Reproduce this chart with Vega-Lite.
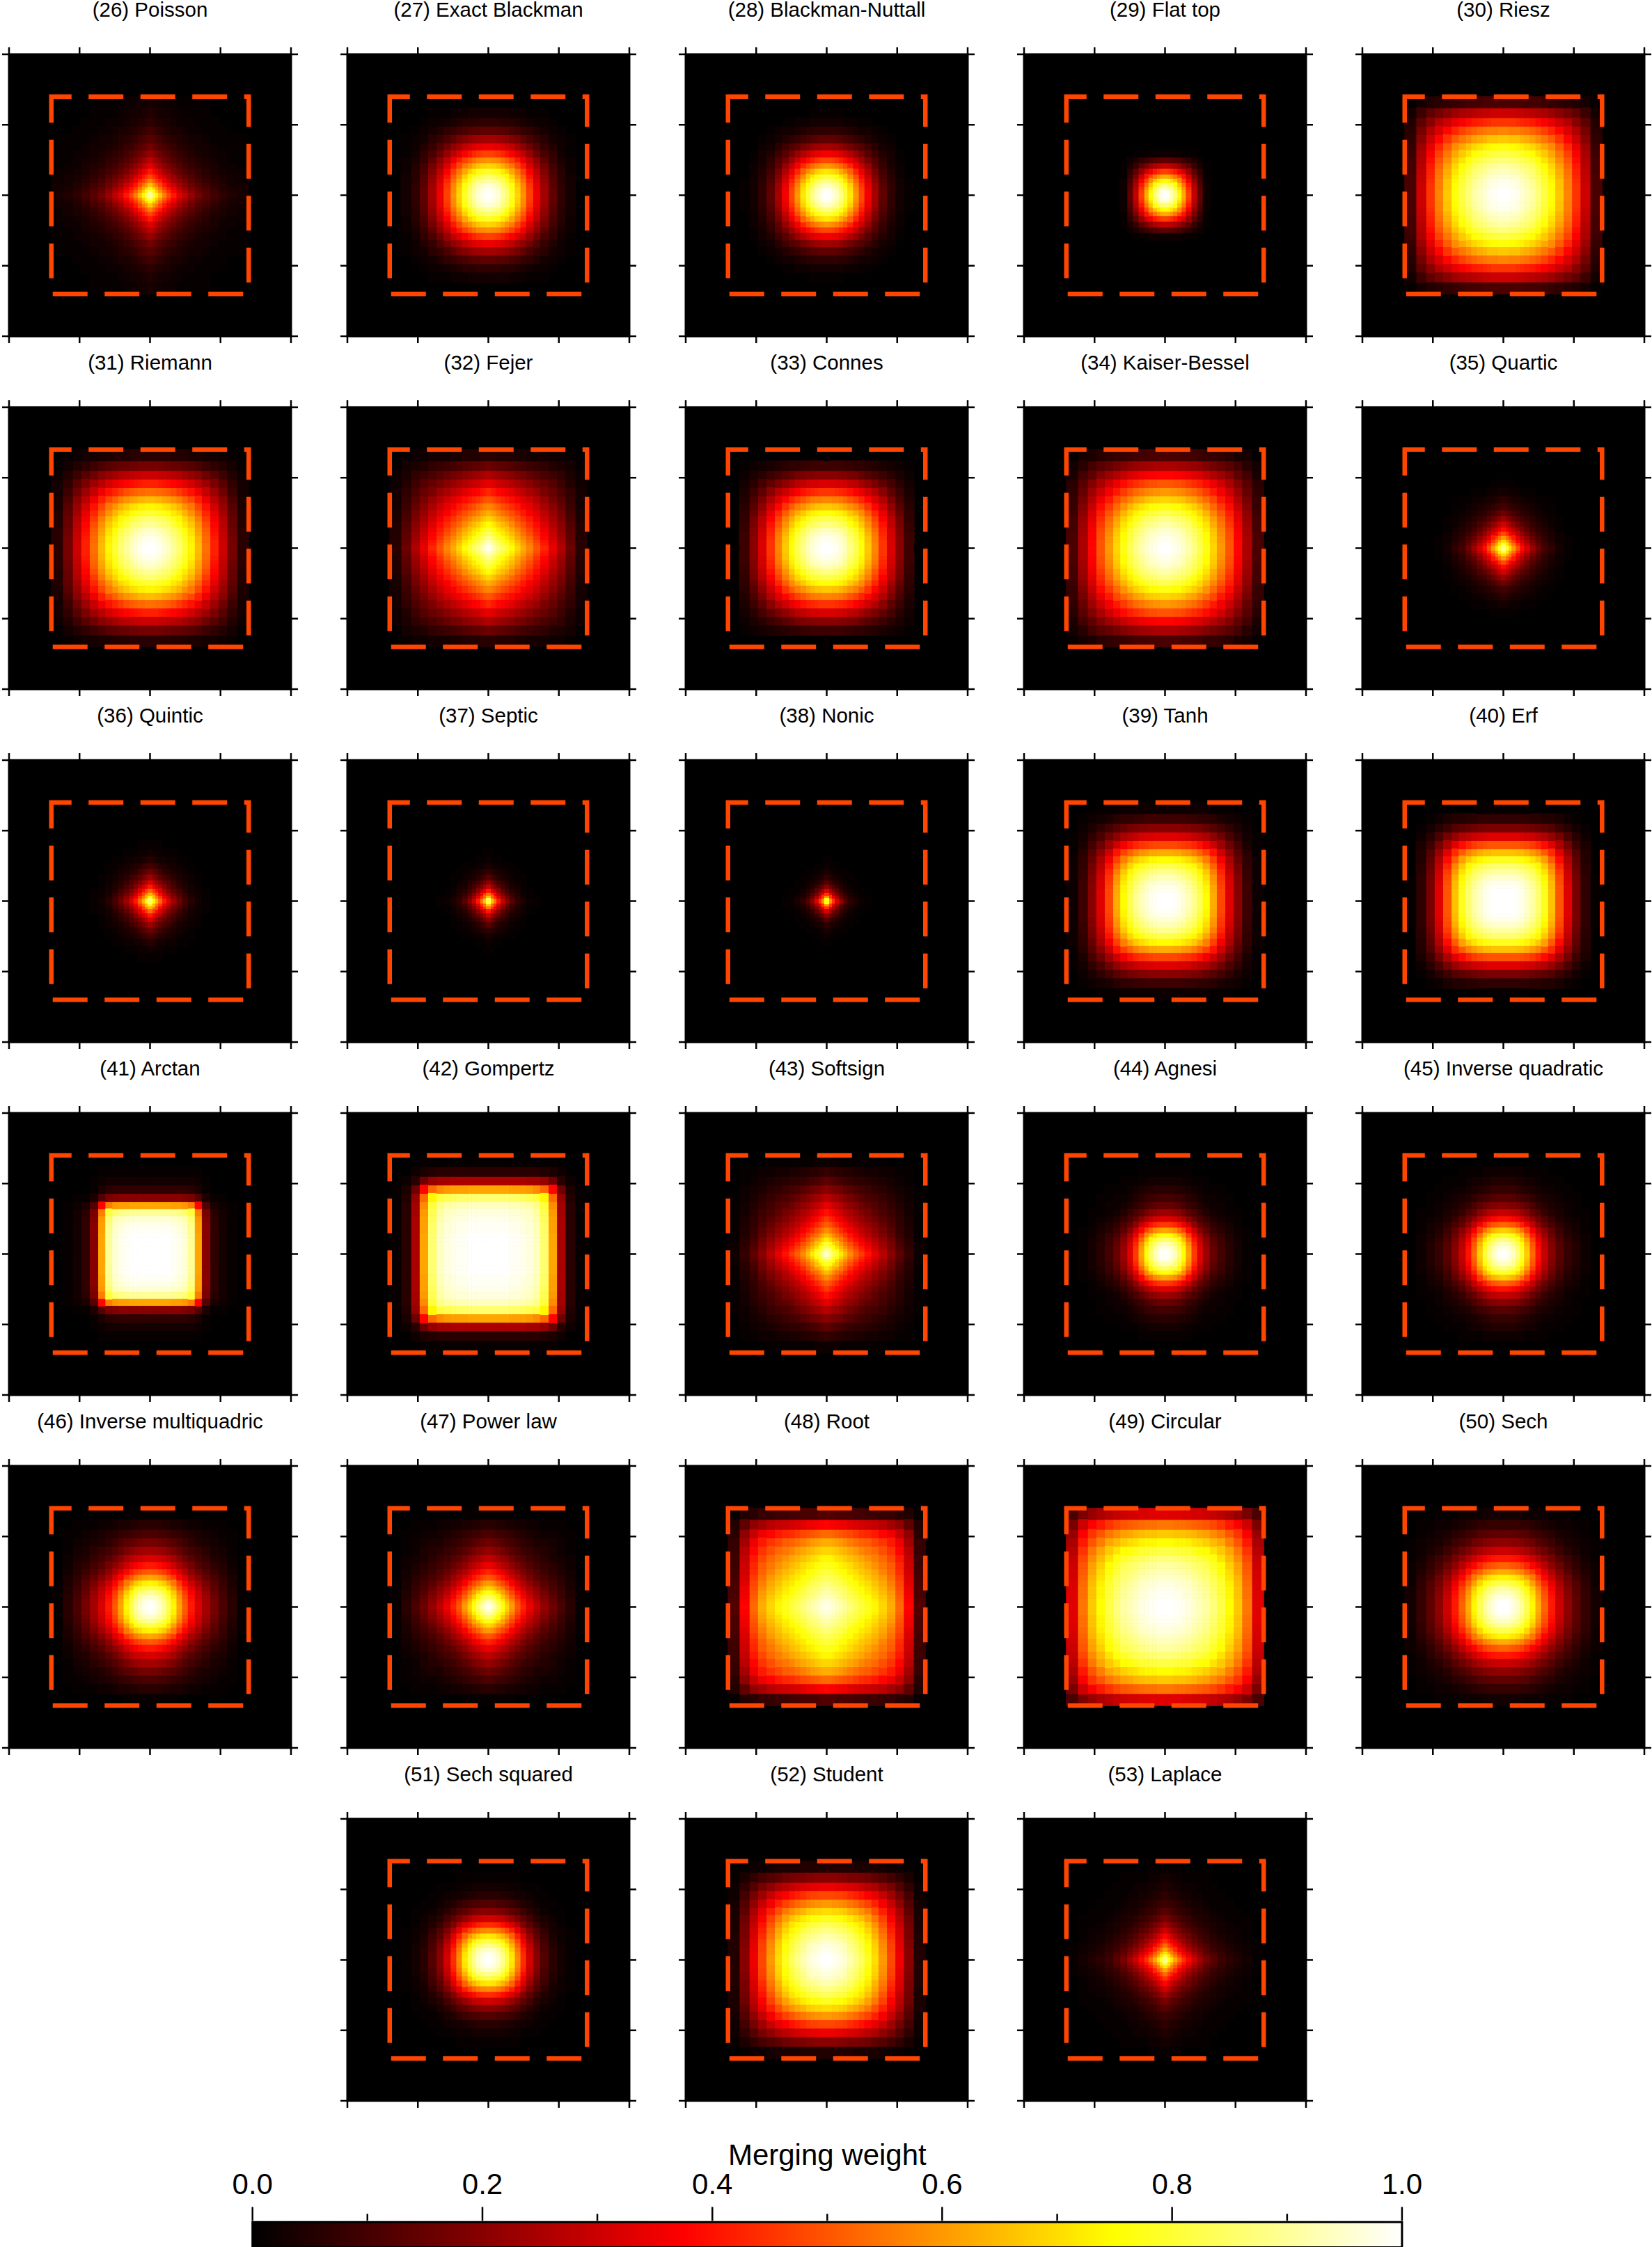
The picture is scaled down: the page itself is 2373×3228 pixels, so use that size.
{"$schema":"https://vega.github.io/schema/vega-lite/v6.json","padding":{"left":1,"top":0,"right":0,"bottom":0},"background":"white",
"config":{"view":{"stroke":null}},
"datasets":{"edges":[{"k":0,"a":[0],"b":[0]},{"k":1,"a":[0,0],"b":[0.02,-0.02]},{"k":2,"a":[0.02,-0.02],"b":[0.04,-0.04]},{"k":3,"a":[0.04,-0.04],"b":[0.06,-0.06]},{"k":4,"a":[0.06,-0.06],"b":[0.09,-0.09]},{"k":5,"a":[0.09,-0.09],"b":[0.12,-0.12]},{"k":6,"a":[0.12,-0.12],"b":[0.15,-0.15]},{"k":7,"a":[0.15,-0.15],"b":[0.19,-0.19]},{"k":8,"a":[0.19,-0.19],"b":[0.23,-0.23]},{"k":9,"a":[0.23,-0.23],"b":[0.27,-0.27]},{"k":10,"a":[0.27,-0.27],"b":[0.32,-0.32]},{"k":11,"a":[0.32,-0.32],"b":[0.37,-0.37]},{"k":12,"a":[0.37,-0.37],"b":[0.43,-0.43]},{"k":13,"a":[0.43,-0.43],"b":[0.49,-0.49]},{"k":14,"a":[0.49,-0.49],"b":[0.55,-0.55]},{"k":15,"a":[0.55,-0.55],"b":[0.62,-0.62]},{"k":16,"a":[0.62,-0.62],"b":[0.7,-0.7]}],
"panels":[
{"p":26,"n":"(26) Poisson","c":0,"r":0,"lo":-0.7,"hi":0.7,"mid":0,"top":1,"bot":-1,"tip":1.0494,"nip":-1.0494},
{"p":27,"n":"(27) Exact Blackman","c":1,"r":0,"lo":-0.7,"hi":0.7,"mid":0,"top":1,"bot":-1,"tip":1.0494,"nip":-1.0494},
{"p":28,"n":"(28) Blackman-Nuttall","c":2,"r":0,"lo":-0.7,"hi":0.7,"mid":0,"top":1,"bot":-1,"tip":1.0494,"nip":-1.0494},
{"p":29,"n":"(29) Flat top","c":3,"r":0,"lo":-0.7,"hi":0.7,"mid":0,"top":1,"bot":-1,"tip":1.0494,"nip":-1.0494},
{"p":30,"n":"(30) Riesz","c":4,"r":0,"lo":-0.7,"hi":0.7,"mid":0,"top":1,"bot":-1,"tip":1.0494,"nip":-1.0494},
{"p":31,"n":"(31) Riemann","c":0,"r":1,"lo":-0.7,"hi":0.7,"mid":0,"top":1,"bot":-1,"tip":1.0494,"nip":-1.0494},
{"p":32,"n":"(32) Fejer","c":1,"r":1,"lo":-0.7,"hi":0.7,"mid":0,"top":1,"bot":-1,"tip":1.0494,"nip":-1.0494},
{"p":33,"n":"(33) Connes","c":2,"r":1,"lo":-0.7,"hi":0.7,"mid":0,"top":1,"bot":-1,"tip":1.0494,"nip":-1.0494},
{"p":34,"n":"(34) Kaiser-Bessel","c":3,"r":1,"lo":-0.7,"hi":0.7,"mid":0,"top":1,"bot":-1,"tip":1.0494,"nip":-1.0494},
{"p":35,"n":"(35) Quartic","c":4,"r":1,"lo":-0.7,"hi":0.7,"mid":0,"top":1,"bot":-1,"tip":1.0494,"nip":-1.0494},
{"p":36,"n":"(36) Quintic","c":0,"r":2,"lo":-0.7,"hi":0.7,"mid":0,"top":1,"bot":-1,"tip":1.0494,"nip":-1.0494},
{"p":37,"n":"(37) Septic","c":1,"r":2,"lo":-0.7,"hi":0.7,"mid":0,"top":1,"bot":-1,"tip":1.0494,"nip":-1.0494},
{"p":38,"n":"(38) Nonic","c":2,"r":2,"lo":-0.7,"hi":0.7,"mid":0,"top":1,"bot":-1,"tip":1.0494,"nip":-1.0494},
{"p":39,"n":"(39) Tanh","c":3,"r":2,"lo":-0.7,"hi":0.7,"mid":0,"top":1,"bot":-1,"tip":1.0494,"nip":-1.0494},
{"p":40,"n":"(40) Erf","c":4,"r":2,"lo":-0.7,"hi":0.7,"mid":0,"top":1,"bot":-1,"tip":1.0494,"nip":-1.0494},
{"p":41,"n":"(41) Arctan","c":0,"r":3,"lo":-0.7,"hi":0.7,"mid":0,"top":1,"bot":-1,"tip":1.0494,"nip":-1.0494},
{"p":42,"n":"(42) Gompertz","c":1,"r":3,"lo":-0.7,"hi":0.7,"mid":0,"top":1,"bot":-1,"tip":1.0494,"nip":-1.0494},
{"p":43,"n":"(43) Softsign","c":2,"r":3,"lo":-0.7,"hi":0.7,"mid":0,"top":1,"bot":-1,"tip":1.0494,"nip":-1.0494},
{"p":44,"n":"(44) Agnesi","c":3,"r":3,"lo":-0.7,"hi":0.7,"mid":0,"top":1,"bot":-1,"tip":1.0494,"nip":-1.0494},
{"p":45,"n":"(45) Inverse quadratic","c":4,"r":3,"lo":-0.7,"hi":0.7,"mid":0,"top":1,"bot":-1,"tip":1.0494,"nip":-1.0494},
{"p":46,"n":"(46) Inverse multiquadric","c":0,"r":4,"lo":-0.7,"hi":0.7,"mid":0,"top":1,"bot":-1,"tip":1.0494,"nip":-1.0494},
{"p":47,"n":"(47) Power law","c":1,"r":4,"lo":-0.7,"hi":0.7,"mid":0,"top":1,"bot":-1,"tip":1.0494,"nip":-1.0494},
{"p":48,"n":"(48) Root","c":2,"r":4,"lo":-0.7,"hi":0.7,"mid":0,"top":1,"bot":-1,"tip":1.0494,"nip":-1.0494},
{"p":49,"n":"(49) Circular","c":3,"r":4,"lo":-0.7,"hi":0.7,"mid":0,"top":1,"bot":-1,"tip":1.0494,"nip":-1.0494},
{"p":50,"n":"(50) Sech","c":4,"r":4,"lo":-0.7,"hi":0.7,"mid":0,"top":1,"bot":-1,"tip":1.0494,"nip":-1.0494},
{"p":51,"n":"(51) Sech squared","c":1,"r":5,"lo":-0.7,"hi":0.7,"mid":0,"top":1,"bot":-1,"tip":1.0494,"nip":-1.0494},
{"p":52,"n":"(52) Student","c":2,"r":5,"lo":-0.7,"hi":0.7,"mid":0,"top":1,"bot":-1,"tip":1.0494,"nip":-1.0494},
{"p":53,"n":"(53) Laplace","c":3,"r":5,"lo":-0.7,"hi":0.7,"mid":0,"top":1,"bot":-1,"tip":1.0494,"nip":-1.0494},
{"p":70,"n":"Merging weight","c":2,"r":5,"mid":0.004,"top":-1.452},
{"p":71,"c":2,"r":5,"lo":-4.073,"hi":4.081,"top":-1.861,"tip":-2.039},
{"p":80,"c":2,"r":5,"mid":-3.258,"top":-1.802,"tip":-1.851},
{"p":81,"c":2,"r":5,"mid":-1.627,"top":-1.802,"tip":-1.851},
{"p":82,"c":2,"r":5,"mid":0.004,"top":-1.802,"tip":-1.851},
{"p":83,"c":2,"r":5,"mid":1.635,"top":-1.802,"tip":-1.851},
{"p":84,"c":2,"r":5,"mid":3.266,"top":-1.802,"tip":-1.851},
{"p":90,"n":"0.0","c":2,"r":5,"mid":-4.073,"top":-1.753,"tip":-1.851,"lab":-1.664},
{"p":91,"n":"0.2","c":2,"r":5,"mid":-2.442,"top":-1.753,"tip":-1.851,"lab":-1.664},
{"p":92,"n":"0.4","c":2,"r":5,"mid":-0.811,"top":-1.753,"tip":-1.851,"lab":-1.664},
{"p":93,"n":"0.6","c":2,"r":5,"mid":0.819,"top":-1.753,"tip":-1.851,"lab":-1.664},
{"p":94,"n":"0.8","c":2,"r":5,"mid":2.45,"top":-1.753,"tip":-1.851,"lab":-1.664},
{"p":95,"n":"1.0","c":2,"r":5,"mid":4.081,"top":-1.753,"tip":-1.851,"lab":-1.664}],
"cells":[
{"p":70,"j":0,"v":[0]},{"p":71,"j":0,"v":[0]},{"p":80,"j":0,"v":[0]},{"p":81,"j":0,"v":[0]},{"p":82,"j":0,"v":[0]},{"p":83,"j":0,"v":[0]},{"p":84,"j":0,"v":[0]},{"p":90,"j":0,"v":[0]},{"p":91,"j":0,"v":[0]},{"p":92,"j":0,"v":[0]},{"p":93,"j":0,"v":[0]},{"p":94,"j":0,"v":[0]},{"p":95,"j":0,"v":[0]},
{"p":26,"j":0,"v":[-1,-0.5,0,0.5,1]},{"p":26,"j":1,"v":[90]},{"p":26,"j":2,"v":[82,74]},{"p":26,"j":3,"v":[74,67,61]},{"p":26,"j":4,"v":[66,59,54,48]},{"p":26,"j":5,"v":[56,51,46,41,35]},{"p":26,"j":6,"v":[48,44,40,35,30,26]},{"p":26,"j":7,"v":[41,37,34,30,25,22,18]},{"p":26,"j":8,"v":[33,30,27,24,21,18,15,12]},{"p":26,"j":9,"v":[28,25,23,20,17,15,12,10,8]},{"p":26,"j":10,"v":[22,20,18,16,14,12,10,8,7,5]},{"p":26,"j":11,"v":[17,15,14,12,11,9,8,6,5,4,3]},{"p":26,"j":12,"v":[13,12,11,10,8,7,6,5,4,3,3,2]},{"p":26,"j":13,"v":[10,9,8,7,6,5,4,4,3,2,2,1,1]},{"p":26,"j":14,"v":[7,6,5,5,4,4,3,2,2,2,1,1,1]},{"p":26,"j":15,"v":[5,4,4,3,3,3,2,2,1,1,1,1]},{"p":26,"j":16,"v":[4,3,3,3,2,2,2,1,1,1,1,1]},
{"p":27,"j":0,"v":[-1,-0.5,0,0.5,1]},{"p":27,"j":1,"v":[100]},{"p":27,"j":2,"v":[99,98]},{"p":27,"j":3,"v":[98,97,96]},{"p":27,"j":4,"v":[96,95,94,92]},{"p":27,"j":5,"v":[91,90,89,87,83]},{"p":27,"j":6,"v":[86,85,84,83,78,74]},{"p":27,"j":7,"v":[79,78,77,76,72,68,62]},{"p":27,"j":8,"v":[69,68,68,66,63,59,55,48]},{"p":27,"j":9,"v":[59,58,58,57,54,51,47,41,35]},{"p":27,"j":10,"v":[47,47,46,45,43,40,37,32,28,22]},{"p":27,"j":11,"v":[35,35,34,34,32,30,28,24,21,16,12]},{"p":27,"j":12,"v":[24,24,24,23,22,21,19,17,14,11,8,6]},{"p":27,"j":13,"v":[14,14,14,13,13,12,11,10,8,7,5,3,2]},{"p":27,"j":14,"v":[7,7,7,7,6,6,6,5,4,3,2,2,1]},{"p":27,"j":15,"v":[3,3,3,3,3,3,2,2,2,1,1,1]},
{"p":28,"j":0,"v":[-1,-0.5,0,0.5,1]},{"p":28,"j":1,"v":[100]},{"p":28,"j":2,"v":[99,98]},{"p":28,"j":3,"v":[97,96,94]},{"p":28,"j":4,"v":[94,93,91,88]},{"p":28,"j":5,"v":[88,87,85,83,77]},{"p":28,"j":6,"v":[81,80,79,76,71,66]},{"p":28,"j":7,"v":[72,71,70,68,63,58,52]},{"p":28,"j":8,"v":[60,59,58,56,53,49,43,36]},{"p":28,"j":9,"v":[48,48,47,45,42,39,35,29,23]},{"p":28,"j":10,"v":[36,36,35,34,32,29,26,22,17,13]},{"p":28,"j":11,"v":[24,24,23,23,21,19,17,14,12,9,6]},{"p":28,"j":12,"v":[14,14,14,13,12,11,10,8,7,5,3,2]},{"p":28,"j":13,"v":[7,7,7,7,6,6,5,4,3,3,2,1]},{"p":28,"j":14,"v":[3,3,3,3,3,2,2,2,1,1]},{"p":28,"j":15,"v":[1,1,1,1,1]},
{"p":29,"j":0,"v":[-1,-0.5,0,0.5,1]},{"p":29,"j":1,"v":[100]},{"p":29,"j":2,"v":[98,96]},{"p":29,"j":3,"v":[94,92,88]},{"p":29,"j":4,"v":[87,85,82,76]},{"p":29,"j":5,"v":[76,74,71,66,58]},{"p":29,"j":6,"v":[63,62,59,55,48,40]},{"p":29,"j":7,"v":[47,46,44,41,36,30,22]},{"p":29,"j":8,"v":[29,28,27,25,22,18,14,8]},{"p":29,"j":9,"v":[14,14,13,12,11,9,7,4,2]},{"p":29,"j":10,"v":[2,2,2,2,2,1,1,1]},
{"p":30,"j":0,"v":[-1,-0.5,0,0.5,1]},{"p":30,"j":1,"v":[100]},{"p":30,"j":2,"v":[100,100]},{"p":30,"j":3,"v":[99,99,98]},{"p":30,"j":4,"v":[99,99,98,98]},{"p":30,"j":5,"v":[98,98,97,97,96]},{"p":30,"j":6,"v":[96,96,95,95,94,92]},{"p":30,"j":7,"v":[94,94,93,93,92,90,88]},{"p":30,"j":8,"v":[91,91,90,90,89,87,86,83]},{"p":30,"j":9,"v":[87,87,86,86,85,84,82,79,76]},{"p":30,"j":10,"v":[82,82,81,81,80,79,77,75,71,67]},{"p":30,"j":11,"v":[76,76,75,75,74,73,71,69,66,62,58]},{"p":30,"j":12,"v":[67,67,66,66,66,64,63,61,58,55,51,45]},{"p":30,"j":13,"v":[57,57,56,56,56,55,54,52,50,47,43,38,32]},{"p":30,"j":14,"v":[45,45,45,45,44,43,42,41,39,37,34,30,26,20]},{"p":30,"j":15,"v":[30,30,30,30,29,29,28,27,26,25,23,20,17,14,9]},{"p":30,"j":16,"v":[11,11,11,11,11,11,10,10,10,9,8,7,6,5,3,1]},
{"p":31,"j":0,"v":[-1,-0.5,0,0.5,1]},{"p":31,"j":1,"v":[100]},{"p":31,"j":2,"v":[100,100]},{"p":31,"j":3,"v":[99,99,98]},{"p":31,"j":4,"v":[98,98,97,96]},{"p":31,"j":5,"v":[96,96,95,94,92]},{"p":31,"j":6,"v":[94,94,93,92,90,88]},{"p":31,"j":7,"v":[90,90,89,88,86,85,81]},{"p":31,"j":8,"v":[86,86,85,84,83,81,77,74]},{"p":31,"j":9,"v":[80,80,79,78,77,75,72,69,64]},{"p":31,"j":10,"v":[74,74,73,73,71,70,67,64,59,55]},{"p":31,"j":11,"v":[65,65,64,64,62,61,59,56,52,48,42]},{"p":31,"j":12,"v":[54,54,53,53,52,51,49,46,43,40,35,29]},{"p":31,"j":13,"v":[42,42,42,41,40,39,38,36,34,31,27,23,18]},{"p":31,"j":14,"v":[30,30,30,29,29,28,27,26,24,22,20,16,13,9]},{"p":31,"j":15,"v":[17,17,17,17,16,16,15,15,14,13,11,9,7,5,3]},{"p":31,"j":16,"v":[6,6,6,6,6,6,5,5,5,4,4,3,3,2,1]},
{"p":32,"j":0,"v":[-1,-0.5,0,0.5,1]},{"p":32,"j":1,"v":[98]},{"p":32,"j":2,"v":[95,92]},{"p":32,"j":3,"v":[92,89,86]},{"p":32,"j":4,"v":[88,85,83,79]},{"p":32,"j":5,"v":[84,82,79,76,72]},{"p":32,"j":6,"v":[80,78,75,72,69,66]},{"p":32,"j":7,"v":[75,73,71,68,65,62,58]},{"p":32,"j":8,"v":[69,67,65,62,60,57,53,49]},{"p":32,"j":9,"v":[63,61,60,57,54,52,49,45,41]},{"p":32,"j":10,"v":[57,56,54,52,49,47,44,41,37,34]},{"p":32,"j":11,"v":[50,49,47,45,43,41,39,36,33,30,26]},{"p":32,"j":12,"v":[43,41,40,38,37,35,33,30,28,25,22,18]},{"p":32,"j":13,"v":[34,33,32,30,29,28,26,24,22,20,17,15,12]},{"p":32,"j":14,"v":[26,25,24,23,22,21,20,18,17,15,13,11,9,7]},{"p":32,"j":15,"v":[16,15,15,14,14,13,12,11,10,9,8,7,5,4,3]},{"p":32,"j":16,"v":[6,6,6,5,5,5,5,4,4,3,3,3,2,2,1]},
{"p":33,"j":0,"v":[-1,-0.5,0,0.5,1]},{"p":33,"j":1,"v":[100]},{"p":33,"j":2,"v":[100,100]},{"p":33,"j":3,"v":[99,99,98]},{"p":33,"j":4,"v":[98,98,97,96]},{"p":33,"j":5,"v":[96,96,95,94,92]},{"p":33,"j":6,"v":[93,93,92,91,89,86]},{"p":33,"j":7,"v":[88,88,87,86,84,82,77]},{"p":33,"j":8,"v":[83,83,82,81,80,77,73,69]},{"p":33,"j":9,"v":[76,76,75,74,73,71,67,63,58]},{"p":33,"j":10,"v":[67,67,66,66,64,62,59,56,51,45]},{"p":33,"j":11,"v":[57,57,56,56,55,53,50,47,43,38,32]},{"p":33,"j":12,"v":[45,45,45,44,43,42,40,37,34,30,26,20]},{"p":33,"j":13,"v":[32,32,32,31,31,30,28,27,24,21,18,14,10]},{"p":33,"j":14,"v":[20,20,20,20,19,19,18,17,15,13,11,9,6,4]},{"p":33,"j":15,"v":[9,9,9,9,9,8,8,7,7,6,5,4,3,2,1]},{"p":33,"j":16,"v":[1]},
{"p":34,"j":0,"v":[-1,-0.5,0,0.5,1]},{"p":34,"j":1,"v":[100]},{"p":34,"j":2,"v":[100,100]},{"p":34,"j":3,"v":[99,99,98]},{"p":34,"j":4,"v":[98,98,97,96]},{"p":34,"j":5,"v":[97,97,96,95,94]},{"p":34,"j":6,"v":[95,95,94,93,92,90]},{"p":34,"j":7,"v":[92,92,91,90,89,87,85]},{"p":34,"j":8,"v":[88,88,87,86,85,84,81,77]},{"p":34,"j":9,"v":[83,83,82,81,81,79,76,73,69]},{"p":34,"j":10,"v":[77,77,76,75,75,73,71,68,64,59]},{"p":34,"j":11,"v":[69,69,68,68,67,66,63,61,57,53,48]},{"p":34,"j":12,"v":[60,60,59,59,58,57,55,53,50,46,41,36]},{"p":34,"j":13,"v":[50,50,50,49,49,48,46,44,42,39,35,30,25]},{"p":34,"j":14,"v":[38,38,38,37,37,36,35,33,32,29,26,23,19,14]},{"p":34,"j":15,"v":[25,25,25,25,24,24,23,22,21,19,17,15,13,10,6]},{"p":34,"j":16,"v":[11,11,11,11,11,10,10,10,9,8,8,7,6,4,3,1]},
{"p":35,"j":0,"v":[-1,-0.5,0,0.5,1]},{"p":35,"j":1,"v":[88]},{"p":35,"j":2,"v":[79,71]},{"p":35,"j":3,"v":[70,62,55]},{"p":35,"j":4,"v":[60,54,47,41]},{"p":35,"j":5,"v":[49,44,38,33,27]},{"p":35,"j":6,"v":[39,35,31,27,22,18]},{"p":35,"j":7,"v":[31,28,24,21,17,14,11]},{"p":35,"j":8,"v":[23,20,18,15,12,10,8,6]},{"p":35,"j":9,"v":[16,14,13,11,9,7,6,4,3]},{"p":35,"j":10,"v":[10,9,8,7,6,5,4,3,2,1]},{"p":35,"j":11,"v":[7,6,5,4,4,3,2,2,1,1]},{"p":35,"j":12,"v":[3,3,2,2,2,1,1,1]},{"p":35,"j":13,"v":[1,1,1,1]},
{"p":36,"j":0,"v":[-1,-0.5,0,0.5,1]},{"p":36,"j":1,"v":[86]},{"p":36,"j":2,"v":[74,64]},{"p":36,"j":3,"v":[64,55,48]},{"p":36,"j":4,"v":[53,46,39,32]},{"p":36,"j":5,"v":[41,35,30,25,19]},{"p":36,"j":6,"v":[32,27,23,19,15,12]},{"p":36,"j":7,"v":[23,20,17,14,11,9,6]},{"p":36,"j":8,"v":[16,14,12,10,7,6,4,3]},{"p":36,"j":9,"v":[10,9,8,6,5,4,3,2,1]},{"p":36,"j":10,"v":[6,5,4,3,3,2,2,1,1]},{"p":36,"j":11,"v":[3,2,2,2,1,1,1]},{"p":36,"j":12,"v":[1,1,1,1]},
{"p":37,"j":0,"v":[-1,-0.5,0,0.5,1]},{"p":37,"j":1,"v":[83]},{"p":37,"j":2,"v":[66,53]},{"p":37,"j":3,"v":[55,44,36]},{"p":37,"j":4,"v":[41,33,27,20]},{"p":37,"j":5,"v":[29,23,19,14,10]},{"p":37,"j":6,"v":[20,16,13,10,7,5]},{"p":37,"j":7,"v":[13,10,8,6,4,3,2]},{"p":37,"j":8,"v":[7,6,5,4,3,2,1,1]},{"p":37,"j":9,"v":[4,3,2,2,1,1,1]},{"p":37,"j":10,"v":[2,1,1,1]},{"p":37,"j":11,"v":[1,1]},
{"p":38,"j":0,"v":[-1,-0.5,0,0.5,1]},{"p":38,"j":1,"v":[77]},{"p":38,"j":2,"v":[59,45]},{"p":38,"j":3,"v":[45,34,26]},{"p":38,"j":4,"v":[32,24,18,13]},{"p":38,"j":5,"v":[20,15,12,8,5]},{"p":38,"j":6,"v":[12,9,7,5,3,2]},{"p":38,"j":7,"v":[7,5,4,3,2,1,1]},{"p":38,"j":8,"v":[4,3,2,1,1,1]},{"p":38,"j":9,"v":[2,1,1,1]},{"p":38,"j":10,"v":[1,1]},
{"p":39,"j":0,"v":[-1,-0.5,0,0.5,1]},{"p":39,"j":1,"v":[100]},{"p":39,"j":2,"v":[100,100]},{"p":39,"j":3,"v":[100,100,100]},{"p":39,"j":4,"v":[99,99,99,98]},{"p":39,"j":5,"v":[98,98,98,97,96]},{"p":39,"j":6,"v":[96,96,96,95,94,92]},{"p":39,"j":7,"v":[93,93,93,92,91,89,86]},{"p":39,"j":8,"v":[89,89,89,88,87,85,83,79]},{"p":39,"j":9,"v":[83,83,83,82,81,80,77,74,69]},{"p":39,"j":10,"v":[75,75,75,74,74,72,70,67,62,56]},{"p":39,"j":11,"v":[63,63,63,62,62,60,59,56,52,47,40]},{"p":39,"j":12,"v":[48,48,48,48,47,46,45,43,40,36,30,23]},{"p":39,"j":13,"v":[33,33,33,33,32,32,31,29,27,25,21,16,11]},{"p":39,"j":14,"v":[20,20,20,20,20,19,19,18,17,15,13,10,7,4]},{"p":39,"j":15,"v":[9,9,9,9,9,9,8,8,7,7,6,4,3,2,1]},{"p":39,"j":16,"v":[2,2,2,2,2,2,2,2,2,2,1,1,1]},
{"p":40,"j":0,"v":[-1,-0.5,0,0.5,1]},{"p":40,"j":1,"v":[100]},{"p":40,"j":2,"v":[100,100]},{"p":40,"j":3,"v":[100,100,100]},{"p":40,"j":4,"v":[100,100,100,100]},{"p":40,"j":5,"v":[99,99,99,99,98]},{"p":40,"j":6,"v":[98,98,98,98,97,96]},{"p":40,"j":7,"v":[95,95,95,95,94,93,90]},{"p":40,"j":8,"v":[91,91,91,91,90,89,86,83]},{"p":40,"j":9,"v":[86,86,86,86,85,84,82,78,74]},{"p":40,"j":10,"v":[78,78,78,78,77,76,74,71,67,61]},{"p":40,"j":11,"v":[66,66,66,66,65,65,63,60,57,51,44]},{"p":40,"j":12,"v":[50,50,50,50,50,49,48,46,43,39,33,25]},{"p":40,"j":13,"v":[33,33,33,33,33,32,31,30,28,26,22,17,11]},{"p":40,"j":14,"v":[18,18,18,18,18,18,17,16,15,14,12,9,6,3]},{"p":40,"j":15,"v":[7,7,7,7,7,7,7,6,6,5,5,4,2,1]},{"p":40,"j":16,"v":[1,1,1,1,1,1,1]},
{"p":41,"j":0,"v":[-1,-0.5,0,0.5,1]},{"p":41,"j":1,"v":[100]},{"p":41,"j":2,"v":[100,100]},{"p":41,"j":3,"v":[100,100,100]},{"p":41,"j":4,"v":[100,100,100,100]},{"p":41,"j":5,"v":[100,100,100,100,100]},{"p":41,"j":6,"v":[100,100,100,100,100,100]},{"p":41,"j":7,"v":[99,99,99,99,99,99,98]},{"p":41,"j":8,"v":[98,98,98,98,98,98,97,96]},{"p":41,"j":9,"v":[96,96,96,96,96,96,95,94,92]},{"p":41,"j":10,"v":[90,90,90,90,90,90,89,88,86,81]},{"p":41,"j":11,"v":[62,62,62,62,62,62,61,61,60,56,38]},{"p":41,"j":12,"v":[20,20,20,20,20,20,20,20,19,18,12,4]},{"p":41,"j":13,"v":[7,7,7,7,7,7,7,7,7,6,4,1]},{"p":41,"j":14,"v":[3,3,3,3,3,3,3,3,3,3,2,1]},{"p":41,"j":15,"v":[1,1,1,1,1,1,1,1,1,1,1]},
{"p":42,"j":0,"v":[-1,-0.5,0,0.5,1]},{"p":42,"j":1,"v":[100]},{"p":42,"j":2,"v":[100,100]},{"p":42,"j":3,"v":[100,100,100]},{"p":42,"j":4,"v":[100,100,100,100]},{"p":42,"j":5,"v":[100,100,100,100,100]},{"p":42,"j":6,"v":[100,100,100,100,100,100]},{"p":42,"j":7,"v":[99,99,99,99,99,99,98]},{"p":42,"j":8,"v":[99,99,99,99,99,99,98,98]},{"p":42,"j":9,"v":[98,98,98,98,98,98,97,97,96]},{"p":42,"j":10,"v":[97,97,97,97,97,97,96,96,95,94]},{"p":42,"j":11,"v":[94,94,94,94,94,94,93,93,92,91,88]},{"p":42,"j":12,"v":[86,86,86,86,86,86,85,85,84,83,81,74]},{"p":42,"j":13,"v":[62,62,62,62,62,62,61,61,61,60,58,53,38]},{"p":42,"j":14,"v":[25,25,25,25,25,25,25,25,25,24,24,22,16,6]},{"p":42,"j":15,"v":[6,6,6,6,6,6,6,6,6,6,6,5,4,2]},{"p":42,"j":16,"v":[1,1,1,1,1,1,1,1,1,1,1,1,1]},
{"p":43,"j":0,"v":[-1,-0.5,0,0.5,1]},{"p":43,"j":1,"v":[94]},{"p":43,"j":2,"v":[89,85]},{"p":43,"j":3,"v":[84,80,76]},{"p":43,"j":4,"v":[79,75,70,66]},{"p":43,"j":5,"v":[72,68,64,60,55]},{"p":43,"j":6,"v":[65,62,58,54,50,45]},{"p":43,"j":7,"v":[58,55,52,49,44,40,36]},{"p":43,"j":8,"v":[51,49,46,43,39,36,32,28]},{"p":43,"j":9,"v":[46,43,41,38,35,31,28,25,22]},{"p":43,"j":10,"v":[40,38,36,33,30,27,25,22,19,17]},{"p":43,"j":11,"v":[34,32,30,28,26,23,21,19,16,14,12]},{"p":43,"j":12,"v":[27,26,24,23,21,19,17,15,13,11,10,8]},{"p":43,"j":13,"v":[20,19,18,17,16,14,13,11,10,9,7,6,4]},{"p":43,"j":14,"v":[14,13,12,11,10,9,8,7,7,6,5,4,3,2]},{"p":43,"j":15,"v":[8,7,7,6,6,5,5,4,4,3,3,2,2,1,1]},{"p":43,"j":16,"v":[2,2,2,2,1,1,1,1,1,1,1,1]},
{"p":44,"j":0,"v":[-1,-0.5,0,0.5,1]},{"p":44,"j":1,"v":[100]},{"p":44,"j":2,"v":[99,98]},{"p":44,"j":3,"v":[97,96,94]},{"p":44,"j":4,"v":[93,92,90,86]},{"p":44,"j":5,"v":[86,85,83,80,74]},{"p":44,"j":6,"v":[76,75,74,71,65,58]},{"p":44,"j":7,"v":[62,61,60,58,53,47,38]},{"p":44,"j":8,"v":[46,46,45,43,40,35,29,21]},{"p":44,"j":9,"v":[33,33,32,31,28,25,20,15,11]},{"p":44,"j":10,"v":[23,23,22,21,20,17,14,11,8,5]},{"p":44,"j":11,"v":[15,15,15,14,13,11,9,7,5,3,2]},{"p":44,"j":12,"v":[10,10,10,9,9,8,6,5,3,2,2,1]},{"p":44,"j":13,"v":[6,6,6,6,5,5,4,3,2,1,1,1]},{"p":44,"j":14,"v":[3,3,3,3,3,2,2,1,1,1]},{"p":44,"j":15,"v":[1,1,1,1,1,1,1]},
{"p":45,"j":0,"v":[-1,-0.5,0,0.5,1]},{"p":45,"j":1,"v":[100]},{"p":45,"j":2,"v":[99,98]},{"p":45,"j":3,"v":[97,96,94]},{"p":45,"j":4,"v":[94,93,91,88]},{"p":45,"j":5,"v":[88,87,85,83,77]},{"p":45,"j":6,"v":[80,79,78,75,70,64]},{"p":45,"j":7,"v":[68,67,66,64,60,54,46]},{"p":45,"j":8,"v":[53,52,51,50,47,42,36,28]},{"p":45,"j":9,"v":[40,40,39,38,35,32,27,21,16]},{"p":45,"j":10,"v":[29,29,28,27,26,23,20,15,12,8]},{"p":45,"j":11,"v":[20,20,19,19,18,16,14,11,8,6,4]},{"p":45,"j":12,"v":[13,13,13,12,11,10,9,7,5,4,3,2]},{"p":45,"j":13,"v":[8,8,8,8,7,6,5,4,3,2,2,1,1]},{"p":45,"j":14,"v":[5,5,5,5,4,4,3,3,2,1,1,1]},{"p":45,"j":15,"v":[2,2,2,2,2,2,1,1,1,1]},
{"p":46,"j":0,"v":[-1,-0.5,0,0.5,1]},{"p":46,"j":1,"v":[100]},{"p":46,"j":2,"v":[99,98]},{"p":46,"j":3,"v":[98,97,96]},{"p":46,"j":4,"v":[95,94,93,90]},{"p":46,"j":5,"v":[90,89,88,86,81]},{"p":46,"j":6,"v":[83,82,81,79,75,69]},{"p":46,"j":7,"v":[74,73,73,70,67,61,55]},{"p":46,"j":8,"v":[62,61,61,59,56,51,46,38]},{"p":46,"j":9,"v":[51,50,50,48,46,42,38,32,26]},{"p":46,"j":10,"v":[41,41,40,39,37,34,30,25,21,17]},{"p":46,"j":11,"v":[32,32,31,30,29,27,24,20,16,13,10]},{"p":46,"j":12,"v":[24,24,24,23,22,20,18,15,12,10,8,6]},{"p":46,"j":13,"v":[17,17,17,16,15,14,13,11,9,7,5,4,3]},{"p":46,"j":14,"v":[11,11,11,10,10,9,8,7,6,5,4,3,2,1]},{"p":46,"j":15,"v":[6,6,6,6,5,5,4,4,3,2,2,1,1,1]},{"p":46,"j":16,"v":[1,1,1,1,1,1,1]},
{"p":47,"j":0,"v":[-1,-0.5,0,0.5,1]},{"p":47,"j":1,"v":[98]},{"p":47,"j":2,"v":[95,92]},{"p":47,"j":3,"v":[91,88,85]},{"p":47,"j":4,"v":[85,83,79,74]},{"p":47,"j":5,"v":[77,75,72,67,61]},{"p":47,"j":6,"v":[69,67,64,60,55,49]},{"p":47,"j":7,"v":[60,59,56,52,48,43,37]},{"p":47,"j":8,"v":[50,49,47,44,40,36,31,26]},{"p":47,"j":9,"v":[43,41,40,37,34,30,26,22,18]},{"p":47,"j":10,"v":[35,34,32,30,27,25,21,18,15,12]},{"p":47,"j":11,"v":[28,27,26,24,22,20,17,14,12,10,8]},{"p":47,"j":12,"v":[22,21,20,19,17,15,13,11,9,8,6,5]},{"p":47,"j":13,"v":[16,15,15,14,12,11,10,8,7,6,4,4,3]},{"p":47,"j":14,"v":[11,11,10,9,9,8,7,6,5,4,3,2,2,1]},{"p":47,"j":15,"v":[6,6,6,5,5,4,4,3,3,2,2,1,1,1]},{"p":47,"j":16,"v":[1,1,1,1,1,1,1]},
{"p":48,"j":0,"v":[-1,-0.5,0,0.5,1]},{"p":48,"j":1,"v":[98]},{"p":48,"j":2,"v":[97,96]},{"p":48,"j":3,"v":[96,95,94]},{"p":48,"j":4,"v":[94,93,92,90]},{"p":48,"j":5,"v":[92,91,90,88,86]},{"p":48,"j":6,"v":[90,89,88,86,85,83]},{"p":48,"j":7,"v":[87,86,85,84,82,80,77]},{"p":48,"j":8,"v":[84,83,82,81,79,77,75,72]},{"p":48,"j":9,"v":[81,80,80,78,76,75,72,70,67]},{"p":48,"j":10,"v":[78,77,77,75,73,72,70,67,65,62]},{"p":48,"j":11,"v":[74,74,73,71,70,68,66,64,62,59,56]},{"p":48,"j":12,"v":[69,69,68,67,65,64,62,60,57,55,53,49]},{"p":48,"j":13,"v":[63,63,62,61,60,58,56,54,52,51,48,45,41]},{"p":48,"j":14,"v":[53,53,52,51,50,49,48,46,44,43,41,38,35,29]},{"p":48,"j":15,"v":[38,37,37,36,35,35,33,32,31,30,29,27,24,21,14]},{"p":48,"j":16,"v":[12,12,12,11,11,11,11,10,10,9,9,8,8,6,5,1]},
{"p":49,"j":0,"v":[-1,-0.5,0,0.5,1]},{"p":49,"j":1,"v":[100]},{"p":49,"j":2,"v":[100,100]},{"p":49,"j":3,"v":[100,100,100]},{"p":49,"j":4,"v":[99,99,99,98]},{"p":49,"j":5,"v":[99,99,99,98,98]},{"p":49,"j":6,"v":[98,98,98,97,97,96]},{"p":49,"j":7,"v":[97,97,97,96,96,95,94]},{"p":49,"j":8,"v":[95,95,95,94,94,93,92,90]},{"p":49,"j":9,"v":[93,93,93,92,92,91,90,88,86]},{"p":49,"j":10,"v":[91,91,91,90,90,89,88,86,85,83]},{"p":49,"j":11,"v":[87,87,87,86,86,85,84,83,81,79,76]},{"p":49,"j":12,"v":[82,82,82,81,81,80,80,78,76,75,71,67]},{"p":49,"j":13,"v":[75,75,75,74,74,74,73,71,70,68,65,62,56]},{"p":49,"j":14,"v":[67,67,67,66,66,66,65,64,62,61,58,55,50,45]},{"p":49,"j":15,"v":[55,55,55,54,54,54,53,52,51,50,48,45,41,37,30]},{"p":49,"j":16,"v":[33,33,33,33,33,32,32,31,31,30,29,27,25,22,18,11]},
{"p":50,"j":0,"v":[-1,-0.5,0,0.5,1]},{"p":50,"j":1,"v":[100]},{"p":50,"j":2,"v":[100,100]},{"p":50,"j":3,"v":[99,99,98]},{"p":50,"j":4,"v":[97,97,96,94]},{"p":50,"j":5,"v":[94,94,93,91,88]},{"p":50,"j":6,"v":[90,90,89,87,85,81]},{"p":50,"j":7,"v":[83,83,82,81,78,75,69]},{"p":50,"j":8,"v":[74,74,73,72,70,67,61,55]},{"p":50,"j":9,"v":[63,63,62,61,59,57,52,47,40]},{"p":50,"j":10,"v":[52,52,51,50,49,47,43,38,33,27]},{"p":50,"j":11,"v":[41,41,41,40,39,37,34,30,26,21,17]},{"p":50,"j":12,"v":[30,30,30,29,28,27,25,22,19,16,12,9]},{"p":50,"j":13,"v":[21,21,21,20,20,19,17,16,13,11,9,6,4]},{"p":50,"j":14,"v":[14,14,14,14,13,13,12,10,9,7,6,4,3,2]},{"p":50,"j":15,"v":[8,8,8,8,8,7,7,6,5,4,3,2,2,1,1]},{"p":50,"j":16,"v":[3,3,3,3,3,3,2,2,2,2,1,1,1]},
{"p":51,"j":0,"v":[-1,-0.5,0,0.5,1]},{"p":51,"j":1,"v":[100]},{"p":51,"j":2,"v":[99,98]},{"p":51,"j":3,"v":[98,97,96]},{"p":51,"j":4,"v":[95,94,93,90]},{"p":51,"j":5,"v":[89,88,87,85,79]},{"p":51,"j":6,"v":[82,81,80,78,73,67]},{"p":51,"j":7,"v":[72,71,71,68,64,59,52]},{"p":51,"j":8,"v":[58,57,57,55,52,48,42,34]},{"p":51,"j":9,"v":[44,44,43,42,39,36,32,26,19]},{"p":51,"j":10,"v":[31,31,30,29,28,25,22,18,14,10]},{"p":51,"j":11,"v":[20,20,20,19,18,16,14,12,9,6,4]},{"p":51,"j":12,"v":[12,12,12,11,11,10,9,7,5,4,2,1]},{"p":51,"j":13,"v":[6,6,6,6,5,5,4,3,3,2,1,1]},{"p":51,"j":14,"v":[3,3,3,3,3,2,2,2,1,1,1]},{"p":51,"j":15,"v":[1,1,1,1,1,1,1,1]},
{"p":52,"j":0,"v":[-1,-0.5,0,0.5,1]},{"p":52,"j":1,"v":[100]},{"p":52,"j":2,"v":[100,100]},{"p":52,"j":3,"v":[99,99,98]},{"p":52,"j":4,"v":[98,98,97,96]},{"p":52,"j":5,"v":[97,97,96,95,94]},{"p":52,"j":6,"v":[95,95,94,93,92,90]},{"p":52,"j":7,"v":[92,92,91,90,89,87,85]},{"p":52,"j":8,"v":[88,88,87,86,85,84,81,77]},{"p":52,"j":9,"v":[84,84,83,82,81,80,77,74,71]},{"p":52,"j":10,"v":[78,78,77,76,76,74,72,69,66,61]},{"p":52,"j":11,"v":[70,70,69,69,68,67,64,62,59,55,49]},{"p":52,"j":12,"v":[60,60,59,59,58,57,55,53,50,47,42,36]},{"p":52,"j":13,"v":[48,48,48,47,47,46,44,42,40,37,34,29,23]},{"p":52,"j":14,"v":[35,35,35,34,34,33,32,31,29,27,25,21,17,12]},{"p":52,"j":15,"v":[20,20,20,20,19,19,18,18,17,16,14,12,10,7,4]},{"p":52,"j":16,"v":[5,5,5,5,5,5,5,4,4,4,4,3,2,2,1]},
{"p":53,"j":0,"v":[-1,-0.5,0,0.5,1]},{"p":53,"j":1,"v":[88]},{"p":53,"j":2,"v":[79,71]},{"p":53,"j":3,"v":[71,63,56]},{"p":53,"j":4,"v":[62,55,50,44]},{"p":53,"j":5,"v":[53,47,42,37,31]},{"p":53,"j":6,"v":[45,40,36,32,27,23]},{"p":53,"j":7,"v":[38,34,30,26,22,19,16]},{"p":53,"j":8,"v":[30,27,24,21,18,15,13,10]},{"p":53,"j":9,"v":[24,21,19,17,14,12,10,8,6]},{"p":53,"j":10,"v":[18,16,14,13,11,9,8,6,5,4]},{"p":53,"j":11,"v":[13,12,11,9,8,7,6,4,4,3,2]},{"p":53,"j":12,"v":[9,8,8,7,6,5,4,3,3,2,1,1]},{"p":53,"j":13,"v":[7,6,5,5,4,3,3,2,2,1,1,1]},{"p":53,"j":14,"v":[5,4,4,3,3,2,2,2,1,1,1]},{"p":53,"j":15,"v":[3,3,2,2,2,1,1,1,1,1]},{"p":53,"j":16,"v":[1,1,1,1,1]}
]},
"data":{"name":"cells"},
"transform":[{"flatten":["v"]},{"window":[{"op":"row_number","as":"i"}],"groupby":["p","j"]},{"lookup":"i","from":{"data":{"name":"edges"},"key":"k","fields":["a","b"]},"as":["x0","x1"]},{"flatten":["x0","x1"]},{"filter":"datum.x1>0||datum.j>0"},{"lookup":"j","from":{"data":{"name":"edges"},"key":"k","fields":["a","b"]},"as":["y0","y1"]},{"flatten":["y0","y1"]},{"lookup":"p","from":{"data":{"name":"panels"},"key":"p","fields":["n","c","r","lo","hi","mid","top","bot","tip","nip","lab"]}}],
"facet":{"column":{"field":"c","type":"ordinal","header":null},"row":{"field":"r","type":"ordinal","header":null}},"spacing":{"row":102,"column":81},"bounds":"flush",
"spec":{"width":405,"height":405,"layer":[
{"transform":[{"filter":"datum.p<70&&datum.j==0&&datum.i==1"}],"mark":{"type":"rect","fill":"#000","stroke":"#000","strokeWidth":3},"encoding":{"x":{"field":"bot","type":"quantitative","scale":{"domain":[-1,1],"nice":false},"axis":null},"x2":{"field":"top"},"y":{"field":"bot","type":"quantitative","scale":{"domain":[-1,1],"nice":false},"axis":null},"y2":{"field":"top"}}},
{"transform":[{"filter":"datum.j>0"}],"mark":{"type":"rect","strokeWidth":1},"encoding":{"x":{"field":"x0","type":"quantitative","axis":null},"x2":{"field":"x1"},"y":{"field":"y0","type":"quantitative","axis":null},"y2":{"field":"y1"},"color":{"field":"v","type":"ordinal","scale":{"domain":[0,1,2,3,4,5,6,7,8,9,10,11,12,13,14,15,16,17,18,19,20,21,22,23,24,25,26,27,28,29,30,31,32,33,34,35,36,37,38,39,40,41,42,43,44,45,46,47,48,49,50,51,52,53,54,55,56,57,58,59,60,61,62,63,64,65,66,67,68,69,70,71,72,73,74,75,76,77,78,79,80,81,82,83,84,85,86,87,88,89,90,91,92,93,94,95,96,97,98,99,100],"range":["#000000","#070000","#0e0000","#140000","#1b0000","#220000","#290000","#300000","#360000","#3d0000","#440000","#4b0000","#520000","#580000","#5f0000","#660000","#6d0000","#740000","#7a0000","#810000","#880000","#8f0000","#960000","#9c0000","#a30000","#aa0000","#b10000","#b80000","#be0000","#c50000","#cc0000","#d30000","#da0000","#e00000","#e70000","#ee0000","#f50000","#fc0000","#ff0300","#ff0a00","#ff1100","#ff1800","#ff1f00","#ff2500","#ff2c00","#ff3300","#ff3a00","#ff4100","#ff4700","#ff4e00","#ff5500","#ff5c00","#ff6300","#ff6900","#ff7000","#ff7700","#ff7e00","#ff8500","#ff8b00","#ff9200","#ff9900","#ffa000","#ffa700","#ffad00","#ffb400","#ffbb00","#ffc200","#ffc900","#ffcf00","#ffd600","#ffdd00","#ffe400","#ffeb00","#fff100","#fff800","#ffff00","#ffff0a","#ffff14","#ffff1f","#ffff29","#ffff33","#ffff3d","#ffff47","#ffff52","#ffff5c","#ffff66","#ffff70","#ffff7a","#ffff85","#ffff8f","#ffff99","#ffffa3","#ffffad","#ffffb8","#ffffc2","#ffffcc","#ffffd6","#ffffe0","#ffffeb","#fffff5","#ffffff"]},"legend":null},"stroke":{"field":"v","type":"ordinal","scale":{"domain":[0,1,2,3,4,5,6,7,8,9,10,11,12,13,14,15,16,17,18,19,20,21,22,23,24,25,26,27,28,29,30,31,32,33,34,35,36,37,38,39,40,41,42,43,44,45,46,47,48,49,50,51,52,53,54,55,56,57,58,59,60,61,62,63,64,65,66,67,68,69,70,71,72,73,74,75,76,77,78,79,80,81,82,83,84,85,86,87,88,89,90,91,92,93,94,95,96,97,98,99,100],"range":["#000000","#070000","#0e0000","#140000","#1b0000","#220000","#290000","#300000","#360000","#3d0000","#440000","#4b0000","#520000","#580000","#5f0000","#660000","#6d0000","#740000","#7a0000","#810000","#880000","#8f0000","#960000","#9c0000","#a30000","#aa0000","#b10000","#b80000","#be0000","#c50000","#cc0000","#d30000","#da0000","#e00000","#e70000","#ee0000","#f50000","#fc0000","#ff0300","#ff0a00","#ff1100","#ff1800","#ff1f00","#ff2500","#ff2c00","#ff3300","#ff3a00","#ff4100","#ff4700","#ff4e00","#ff5500","#ff5c00","#ff6300","#ff6900","#ff7000","#ff7700","#ff7e00","#ff8500","#ff8b00","#ff9200","#ff9900","#ffa000","#ffa700","#ffad00","#ffb400","#ffbb00","#ffc200","#ffc900","#ffcf00","#ffd600","#ffdd00","#ffe400","#ffeb00","#fff100","#fff800","#ffff00","#ffff0a","#ffff14","#ffff1f","#ffff29","#ffff33","#ffff3d","#ffff47","#ffff52","#ffff5c","#ffff66","#ffff70","#ffff7a","#ffff85","#ffff8f","#ffff99","#ffffa3","#ffffad","#ffffb8","#ffffc2","#ffffcc","#ffffd6","#ffffe0","#ffffeb","#fffff5","#ffffff"]},"legend":null}}},
{"transform":[{"filter":"datum.j>0"}],"mark":{"type":"rect","strokeWidth":1},"encoding":{"x":{"field":"y0","type":"quantitative","axis":null},"x2":{"field":"y1"},"y":{"field":"x0","type":"quantitative","axis":null},"y2":{"field":"x1"},"color":{"field":"v","type":"ordinal","legend":null},"stroke":{"field":"v","type":"ordinal","legend":null}}},
{"transform":[{"filter":"datum.p<70&&datum.j==0&&datum.i==1"}],"mark":{"type":"rect","fillOpacity":0,"stroke":"#ff4500","strokeWidth":6.5,"strokeDash":[50,24.5],"strokeDashOffset":21},"encoding":{"x":{"field":"lo","type":"quantitative","axis":null},"x2":{"field":"hi"},"y":{"field":"lo","type":"quantitative","axis":null},"y2":{"field":"hi"}}},
{"transform":[{"filter":"datum.p<70&&datum.j==0"}],"mark":{"type":"rule","strokeWidth":2.5,"color":"#000"},"encoding":{"x":{"field":"v","type":"quantitative","axis":null},"y":{"field":"tip","type":"quantitative","axis":null},"y2":{"field":"top"}}},
{"transform":[{"filter":"datum.p<70&&datum.j==0"}],"mark":{"type":"rule","strokeWidth":2.5,"color":"#000"},"encoding":{"x":{"field":"v","type":"quantitative","axis":null},"y":{"field":"nip","type":"quantitative","axis":null},"y2":{"field":"bot"}}},
{"transform":[{"filter":"datum.p<70&&datum.j==0"}],"mark":{"type":"rule","strokeWidth":2.5,"color":"#000"},"encoding":{"y":{"field":"v","type":"quantitative","axis":null},"x":{"field":"tip","type":"quantitative","axis":null},"x2":{"field":"top"}}},
{"transform":[{"filter":"datum.p<70&&datum.j==0"}],"mark":{"type":"rule","strokeWidth":2.5,"color":"#000"},"encoding":{"y":{"field":"v","type":"quantitative","axis":null},"x":{"field":"nip","type":"quantitative","axis":null},"x2":{"field":"bot"}}},
{"transform":[{"filter":"datum.p<70&&datum.j==0&&datum.i==1"}],"mark":{"type":"text","fontSize":29.5,"baseline":"alphabetic","dy":-54,"color":"#000","font":"Liberation Sans"},"encoding":{"text":{"field":"n"},"x":{"field":"mid","type":"quantitative","axis":null},"y":{"field":"top","type":"quantitative","axis":null}}},
{"transform":[{"filter":"datum.p==71"}],"mark":{"type":"rect","stroke":"#000","strokeWidth":3,"fill":{"x1":0,"y1":0,"x2":1,"y2":0,"gradient":"linear","stops":[{"offset":0,"color":"#000"},{"offset":0.375,"color":"#f00"},{"offset":0.75,"color":"#ff0"},{"offset":1,"color":"#fff"}]}},"encoding":{"x":{"field":"lo","type":"quantitative","axis":null},"x2":{"field":"hi"},"y":{"field":"top","type":"quantitative","axis":null},"y2":{"field":"tip"}}},
{"transform":[{"filter":"datum.p>=80"}],"mark":{"type":"rule","strokeWidth":2.5,"color":"#000"},"encoding":{"x":{"field":"mid","type":"quantitative","axis":null},"y":{"field":"top","type":"quantitative","axis":null},"y2":{"field":"tip"}}},
{"transform":[{"filter":"datum.p>=90"}],"mark":{"type":"text","fontSize":42,"baseline":"alphabetic","color":"#000","font":"Liberation Sans"},"encoding":{"text":{"field":"n"},"x":{"field":"mid","type":"quantitative","axis":null},"y":{"field":"lab","type":"quantitative","axis":null}}},
{"transform":[{"filter":"datum.p==70"}],"mark":{"type":"text","fontSize":42,"baseline":"alphabetic","color":"#000","font":"Liberation Sans"},"encoding":{"text":{"field":"n"},"x":{"field":"mid","type":"quantitative","axis":null},"y":{"field":"top","type":"quantitative","axis":null}}}
]}}
